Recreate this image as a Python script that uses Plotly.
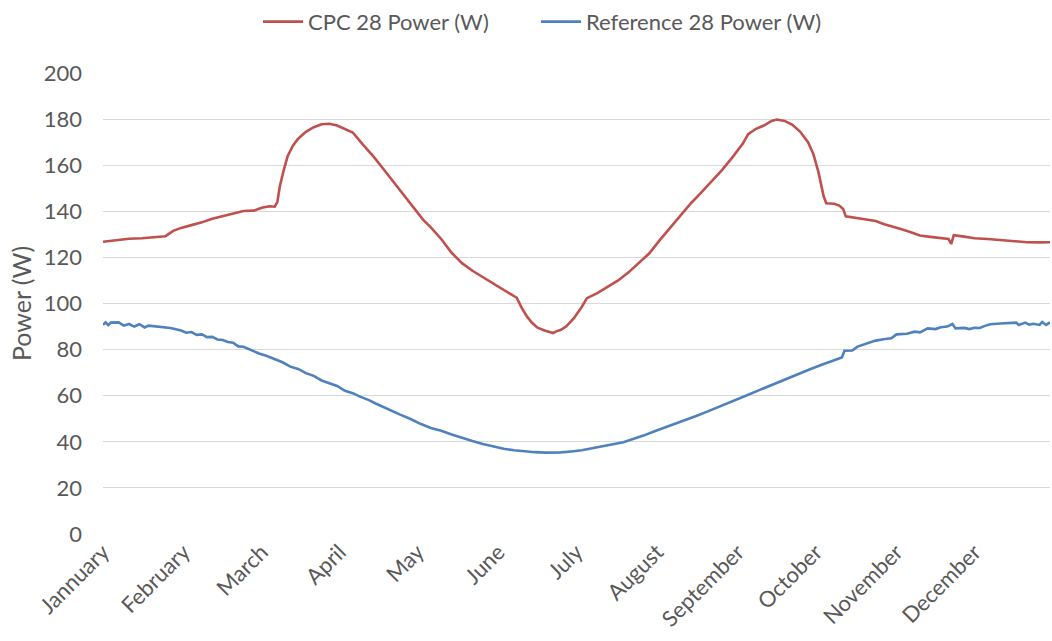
import plotly.graph_objects as go

# Day-of-year sample positions and power readings for the CPC 28 collector
cpc_days = [0, 5, 10, 15, 20, 24, 27, 30, 34, 38, 42, 46, 50, 54, 58, 61, 64, 66,
            67, 68, 69.5, 71, 73, 75, 78, 81, 84, 87, 90, 93, 96, 100, 104, 108,
            112, 116, 119, 123, 126, 130, 134, 138, 142, 146, 150, 154, 157, 159,
            161, 163, 165, 167, 170, 173, 174, 176, 178, 181, 184, 186, 190, 194,
            198, 202, 206, 210, 214, 218, 222, 226, 230, 234, 238, 242, 246, 248,
            251, 254, 257, 259, 262, 265, 268, 271, 273, 275, 277, 278, 281, 283,
            284.5, 285.5, 289, 293, 297, 300, 303, 306, 310, 314, 318, 322, 325,
            326, 327, 331, 335, 340, 345, 350, 355, 360, 364]
cpc_power = [126.8, 127.6, 128.1, 128.3, 128.8, 129.2, 131.5, 132.8, 134.0, 135.2,
             136.8, 137.8, 139.0, 140.1, 140.3, 141.5, 142.2, 142.0,
             144.0, 151.0, 158.0, 164.0, 168.5, 171.5, 174.5, 176.5, 177.8, 178.0,
             177.2, 175.8, 174.2, 168.8, 163.7, 158.0,
             152.3, 146.5, 142.0, 136.4, 133.0, 128.0, 122.0, 117.5, 114.2, 111.5,
             108.5, 106.0, 103.8, 102.5,
             98.0, 94.3, 91.5, 89.5, 88.2, 87.2, 87.8, 88.6, 90.0, 93.6, 98.5,
             102.3, 104.5, 107.2,
             110.0, 113.5, 117.5, 121.8, 127.5, 132.8, 138.0, 143.5, 148.2, 153.0,
             158.0, 163.5, 169.5, 173.5,
             175.8, 177.2, 179.2, 179.8, 179.2, 177.5, 174.5, 170.0, 165.0, 157.0,
             146.5, 143.5, 143.3, 142.5,
             141.0, 137.8, 137.2, 136.4, 135.8, 134.5, 133.6, 132.5, 131.1, 129.5,
             128.9, 128.2, 128.0,
             125.8, 129.6, 129.0, 128.3, 128.0, 127.5, 126.9, 126.6, 126.5, 126.6]

# Day-of-year sample positions and power readings for the reference collector
ref_days = [0, 1, 2, 3, 6, 8, 10, 12, 14, 16, 17.5, 22, 26, 30, 32, 34, 36, 38,
            40, 42, 44, 46, 48, 50, 52, 54, 57, 60, 63, 66, 69, 72, 75, 78, 81,
            84, 87, 90, 93, 96, 99, 102, 105, 108, 111, 114, 118, 122, 126, 130,
            134, 138, 142, 146, 150, 154, 158, 162, 166, 170, 172, 176, 180, 184,
            188, 192, 196, 200, 204, 208, 212, 216, 220, 224, 228, 232, 236, 240,
            244, 248, 252, 256, 260, 264, 268, 272, 276, 280, 284, 285, 288, 290,
            294, 297, 300, 303, 305, 309, 312, 314, 317, 320, 322, 324.5, 326.5,
            327.7, 331, 333, 335, 337, 339, 341, 345, 351, 352, 354.5, 356, 357.5,
            360, 361, 362.5, 364]
ref_power = [90.7, 91.8, 90.6, 91.7, 91.8, 90.4, 91.1, 90.0, 91.0, 89.6, 90.4,
             90.0, 89.4, 88.3, 87.3, 87.6, 86.4, 86.6,
             85.4, 85.5, 84.4, 84.2, 83.3, 83.0, 81.4, 81.2, 79.6, 78.3, 77.2,
             75.8, 74.5, 72.6, 71.6, 69.8, 68.6,
             66.6, 65.3, 64.2, 62.1, 61.1, 59.5, 58.2, 56.5, 54.9, 53.3, 51.9,
             50.0, 47.8, 46.0, 44.8,
             43.2, 41.6, 40.3, 39.0, 37.9, 37.0, 36.3, 35.8, 35.5, 35.3, 35.3,
             35.4, 35.8, 36.3,
             37.2, 38.2, 38.9, 39.8, 41.2, 42.8, 44.6, 46.2, 48.0, 49.6, 51.2,
             53.0, 54.8, 56.5,
             58.6, 60.4, 62.3, 64.2, 66.0, 67.8, 69.7, 71.6, 73.3, 75.0, 76.6,
             79.5, 79.6, 81.3,
             82.7, 83.9, 84.5, 84.9, 86.6, 86.9, 87.8, 87.5, 89.2, 88.9, 89.7,
             90.0, 91.1,
             89.2, 89.4, 88.9, 89.5, 89.4, 90.3, 91.0, 91.3, 91.7, 90.7, 91.7,
             90.8, 91.2,
             90.7, 92.0, 90.7, 91.8]

month_days = [0, 31, 61, 91, 121, 152, 182, 213, 244, 274, 305, 335]
month_labels = ["Jannuary", "February", "March", "April", "May", "June", "July",
                "August", "September", "October", "November", "December"]
y_ticks = [0, 20, 40, 60, 80, 100, 120, 140, 160, 180, 200]

FONT = "Lato, Carlito, Calibri, sans-serif"
GREY = "#595959"

fig = go.Figure()
fig.add_trace(go.Scatter(
    x=cpc_days, y=cpc_power, mode="lines", name="CPC 28 Power (W)",
    line=dict(color="#C0504D", width=2.6), legend="legend",
))
fig.add_trace(go.Scatter(
    x=ref_days, y=ref_power, mode="lines", name="Reference 28 Power (W)",
    line=dict(color="#4F81BD", width=2.6), legend="legend2",
))

legend_style = dict(
    orientation="h", xref="container", yref="container",
    xanchor="left", y=0.966, yanchor="middle",
    font=dict(family=FONT, size=22, color=GREY),
    itemwidth=40, bgcolor="rgba(0,0,0,0)",
)

fig.update_layout(
    width=1052, height=641,
    margin=dict(l=103, r=2, t=73, b=107),
    paper_bgcolor="white", plot_bgcolor="white",
    font=dict(family=FONT, color=GREY, size=22),
    showlegend=True,
    legend=dict(x=258 / 1052, **legend_style),
    legend2=dict(x=536 / 1052, **legend_style),
    xaxis=dict(
        range=[0, 364], tickmode="array", tickvals=month_days,
        ticktext=month_labels, tickangle=-45, showgrid=False,
        zeroline=False, showline=False, ticks="",
        tickfont=dict(family=FONT, size=22, color=GREY),
    ),
    yaxis=dict(
        range=[0, 200], tickmode="array", tickvals=y_ticks,
        showgrid=True, gridcolor="#D9D9D9", gridwidth=1.3,
        zeroline=False, showline=False, ticks="",
        ticklabelstandoff=20,
        tickfont=dict(family=FONT, size=22, color=GREY),
        title=dict(text="Power (W)", font=dict(family=FONT, size=25, color=GREY),
                   standoff=4),
    ),
)

fig.write_html("out.html")
